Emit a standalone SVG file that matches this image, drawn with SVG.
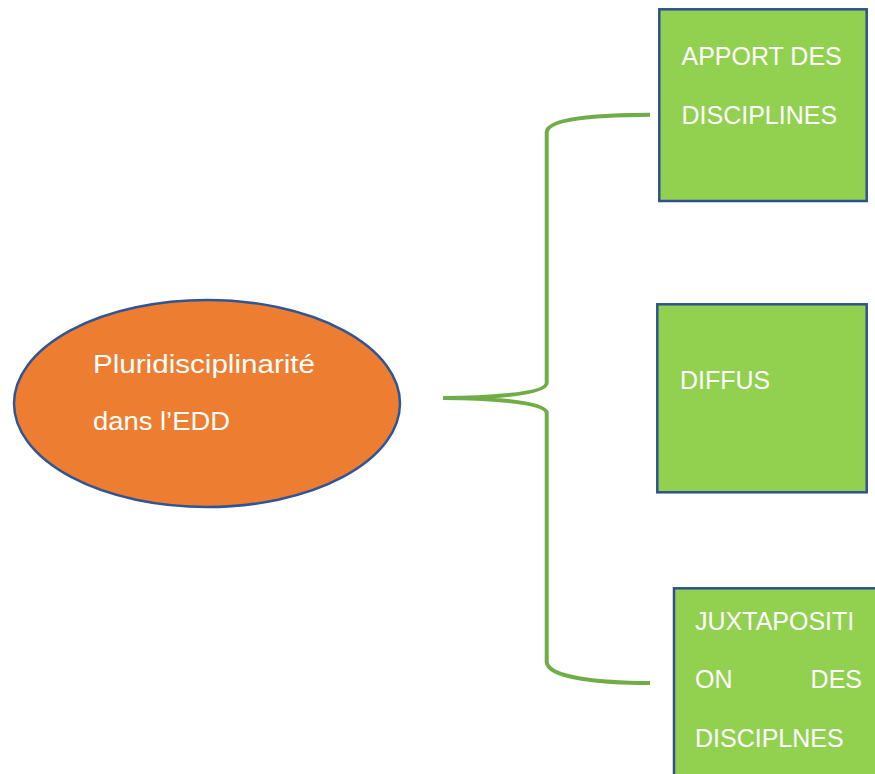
<svg xmlns="http://www.w3.org/2000/svg" width="875" height="774" viewBox="0 0 875 774">
<style>
.box{fill:#92D050;stroke:#2F528F;stroke-width:2.5}
.t{font-family:"Liberation Sans",Arial,sans-serif;font-size:25px;fill:#ffffff}
.brace{fill:none;stroke:#70AD47;stroke-width:4}
</style>
<rect width="875" height="774" fill="#ffffff"/>
<g id="connectors">
<path class="brace" d="M650,114.7 C600,115 548,118 546.7,132 L546.7,383 C546,395 480,398 443,398 C480,398 546,401 546.7,413 L546.7,662 C548,678 600,683 650,683"/>
</g>
<g id="center">
<ellipse cx="207" cy="403.5" rx="193" ry="103.5" fill="#ED7D31" stroke="#2F5597" stroke-width="2.5"/>
<text class="t" x="93" y="373" textLength="222" lengthAdjust="spacingAndGlyphs">Pluridisciplinarité</text>
<text class="t" x="93" y="430" textLength="137" lengthAdjust="spacingAndGlyphs">dans l’EDD</text>
</g>
<g id="apport">
<rect class="box" x="659.3" y="9.3" width="207.4" height="191.7"/>
<text class="t" x="681.5" y="65">APPORT DES</text>
<text class="t" x="681.5" y="124">DISCIPLINES</text>
</g>
<g id="diffus">
<rect class="box" x="657.3" y="304.3" width="209.4" height="188"/>
<text class="t" x="680" y="389">DIFFUS</text>
</g>
<g id="juxta">
<rect class="box" x="674" y="588.3" width="220" height="200"/>
<text class="t" x="695" y="630">JUXTAPOSITI</text>
<text class="t" x="695" y="688">ON</text>
<text class="t" x="862" y="688" text-anchor="end">DES</text>
<text class="t" x="695" y="746.5">DISCIPLNES</text>
</g>
</svg>
